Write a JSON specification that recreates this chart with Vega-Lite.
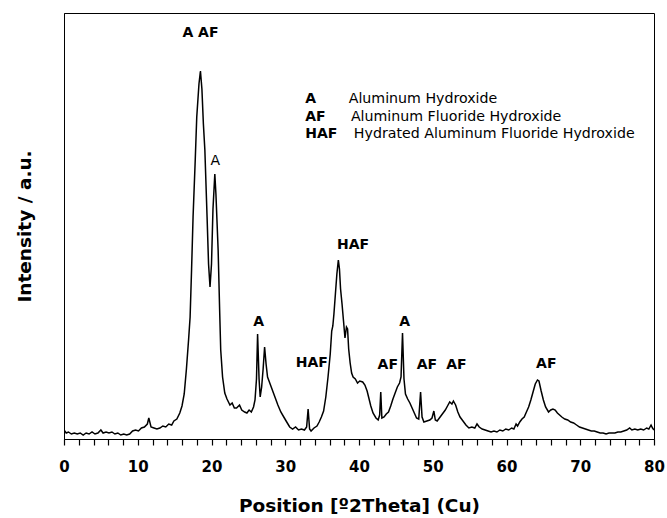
{
  "$schema": "https://vega.github.io/schema/vega-lite/v6.json",
  "width": 590,
  "height": 426,
  "autosize": "none",
  "padding": {"left": 64, "top": 13, "right": 13, "bottom": 79},
  "config": {
    "font": "DejaVu Sans",
    "view": {"stroke": "#000000", "strokeWidth": 1}
  },
  "datasets": {
    "xrd": [
      {"t":0.0,"i":9},{"t":0.3,"i":6},{"t":0.6,"i":7},{"t":1.0,"i":5},{"t":1.4,"i":6},{"t":1.8,"i":5},{"t":2.2,"i":6},{"t":2.6,"i":4},{"t":3.0,"i":6},{"t":3.4,"i":5},{"t":3.8,"i":7},{"t":4.2,"i":5},{"t":4.6,"i":6},{"t":5.0,"i":9},{"t":5.3,"i":6},{"t":5.7,"i":7},{"t":6.1,"i":6},{"t":6.5,"i":7},{"t":6.9,"i":5},{"t":7.3,"i":6},{"t":7.7,"i":4},{"t":8.1,"i":5},{"t":8.5,"i":4},{"t":8.9,"i":5},{"t":9.3,"i":8},{"t":9.7,"i":9},{"t":10.1,"i":8},{"t":10.5,"i":11},{"t":10.9,"i":12},{"t":11.3,"i":15},{"t":11.5,"i":21},{"t":11.8,"i":12},{"t":12.2,"i":11},{"t":12.6,"i":10},{"t":13.0,"i":11},{"t":13.4,"i":13},{"t":13.8,"i":12},{"t":14.2,"i":15},{"t":14.6,"i":14},{"t":14.9,"i":18},{"t":15.3,"i":20},{"t":15.7,"i":26},{"t":16.0,"i":33},{"t":16.3,"i":45},{"t":16.6,"i":70},{"t":16.9,"i":100},{"t":17.1,"i":122},{"t":17.3,"i":170},{"t":17.5,"i":222},{"t":17.8,"i":280},{"t":18.0,"i":322},{"t":18.3,"i":355},{"t":18.5,"i":368},{"t":18.7,"i":350},{"t":18.9,"i":315},{"t":19.1,"i":289},{"t":19.4,"i":222},{"t":19.6,"i":175},{"t":19.8,"i":152},{"t":20.0,"i":175},{"t":20.2,"i":230},{"t":20.45,"i":265},{"t":20.6,"i":245},{"t":20.9,"i":189},{"t":21.1,"i":130},{"t":21.25,"i":89},{"t":21.5,"i":62},{"t":21.8,"i":46},{"t":22.1,"i":40},{"t":22.5,"i":34},{"t":22.8,"i":36},{"t":23.1,"i":31},{"t":23.4,"i":31},{"t":23.8,"i":34},{"t":24.1,"i":29},{"t":24.5,"i":27},{"t":24.8,"i":26},{"t":25.1,"i":29},{"t":25.4,"i":27},{"t":25.7,"i":32},{"t":25.9,"i":39},{"t":26.1,"i":60},{"t":26.25,"i":105},{"t":26.45,"i":60},{"t":26.6,"i":42},{"t":26.8,"i":52},{"t":27.0,"i":70},{"t":27.2,"i":92},{"t":27.4,"i":75},{"t":27.6,"i":62},{"t":27.8,"i":58},{"t":28.1,"i":52},{"t":28.4,"i":46},{"t":28.6,"i":42},{"t":29.0,"i":34},{"t":29.4,"i":27},{"t":29.8,"i":22},{"t":30.2,"i":17},{"t":30.6,"i":12},{"t":31.0,"i":10},{"t":31.4,"i":12},{"t":31.8,"i":9},{"t":32.2,"i":10},{"t":32.6,"i":9},{"t":32.9,"i":12},{"t":33.1,"i":30},{"t":33.3,"i":10},{"t":33.5,"i":8},{"t":33.9,"i":11},{"t":34.3,"i":13},{"t":34.6,"i":17},{"t":34.9,"i":22},{"t":35.2,"i":28},{"t":35.5,"i":42},{"t":35.8,"i":62},{"t":36.1,"i":85},{"t":36.3,"i":108},{"t":36.45,"i":113},{"t":36.6,"i":125},{"t":36.8,"i":145},{"t":37.0,"i":165},{"t":37.2,"i":179},{"t":37.35,"i":170},{"t":37.5,"i":150},{"t":37.7,"i":135},{"t":37.9,"i":118},{"t":38.1,"i":101},{"t":38.3,"i":112},{"t":38.45,"i":110},{"t":38.6,"i":90},{"t":38.8,"i":76},{"t":39.0,"i":66},{"t":39.2,"i":62},{"t":39.5,"i":60},{"t":39.8,"i":56},{"t":40.1,"i":58},{"t":40.5,"i":57},{"t":40.8,"i":54},{"t":41.1,"i":48},{"t":41.3,"i":42},{"t":41.6,"i":33},{"t":41.9,"i":26},{"t":42.3,"i":21},{"t":42.6,"i":19},{"t":42.8,"i":24},{"t":42.95,"i":47},{"t":43.1,"i":21},{"t":43.4,"i":22},{"t":43.7,"i":25},{"t":44.0,"i":27},{"t":44.3,"i":33},{"t":44.6,"i":40},{"t":44.9,"i":46},{"t":45.2,"i":52},{"t":45.5,"i":56},{"t":45.7,"i":62},{"t":45.9,"i":106},{"t":46.1,"i":60},{"t":46.3,"i":45},{"t":46.6,"i":40},{"t":46.9,"i":36},{"t":47.2,"i":31},{"t":47.5,"i":26},{"t":47.8,"i":21},{"t":48.1,"i":20},{"t":48.35,"i":47},{"t":48.55,"i":22},{"t":48.8,"i":17},{"t":49.2,"i":18},{"t":49.6,"i":19},{"t":49.9,"i":21},{"t":50.15,"i":28},{"t":50.35,"i":19},{"t":50.6,"i":18},{"t":50.9,"i":21},{"t":51.3,"i":25},{"t":51.7,"i":29},{"t":52.0,"i":33},{"t":52.3,"i":37},{"t":52.6,"i":35},{"t":52.8,"i":38},{"t":53.1,"i":34},{"t":53.4,"i":27},{"t":53.7,"i":22},{"t":54.1,"i":18},{"t":54.5,"i":14},{"t":54.9,"i":11},{"t":55.3,"i":12},{"t":55.7,"i":11},{"t":56.0,"i":15},{"t":56.3,"i":12},{"t":56.7,"i":10},{"t":57.1,"i":9},{"t":57.5,"i":8},{"t":57.9,"i":7},{"t":58.3,"i":8},{"t":58.7,"i":7},{"t":59.1,"i":9},{"t":59.5,"i":8},{"t":59.9,"i":10},{"t":60.3,"i":9},{"t":60.7,"i":11},{"t":61.0,"i":10},{"t":61.3,"i":15},{"t":61.5,"i":13},{"t":61.8,"i":17},{"t":62.1,"i":20},{"t":62.4,"i":22},{"t":62.7,"i":27},{"t":63.0,"i":32},{"t":63.3,"i":39},{"t":63.6,"i":47},{"t":63.9,"i":55},{"t":64.2,"i":59},{"t":64.4,"i":58},{"t":64.7,"i":48},{"t":65.0,"i":39},{"t":65.3,"i":32},{"t":65.7,"i":27},{"t":66.0,"i":29},{"t":66.3,"i":30},{"t":66.6,"i":29},{"t":66.9,"i":26},{"t":67.2,"i":24},{"t":67.5,"i":22},{"t":67.9,"i":20},{"t":68.3,"i":19},{"t":68.7,"i":17},{"t":69.1,"i":16},{"t":69.5,"i":14},{"t":69.9,"i":12},{"t":70.3,"i":11},{"t":70.7,"i":10},{"t":71.1,"i":9},{"t":71.5,"i":8},{"t":71.9,"i":8},{"t":72.3,"i":7},{"t":72.7,"i":6},{"t":73.1,"i":6},{"t":73.5,"i":5},{"t":73.9,"i":6},{"t":74.3,"i":6},{"t":74.7,"i":6},{"t":75.1,"i":7},{"t":75.5,"i":7},{"t":75.9,"i":8},{"t":76.3,"i":9},{"t":76.7,"i":11},{"t":77.0,"i":9},{"t":77.4,"i":10},{"t":77.8,"i":9},{"t":78.2,"i":10},{"t":78.6,"i":9},{"t":79.0,"i":11},{"t":79.3,"i":10},{"t":79.6,"i":14},{"t":79.8,"i":11},{"t":80.0,"i":9}
    ],
    "peakBold": [
      {"t":18.5,"i":406,"label":"A AF"},
      {"t":26.4,"i":117,"label":"A"},
      {"t":33.6,"i":76,"label":"HAF"},
      {"t":39.2,"i":194,"label":"HAF"},
      {"t":43.9,"i":74,"label":"AF"},
      {"t":46.2,"i":117,"label":"A"},
      {"t":49.2,"i":74,"label":"AF"},
      {"t":53.2,"i":74,"label":"AF"},
      {"t":65.4,"i":75,"label":"AF"}
    ],
    "peakNormal": [
      {"t":20.5,"i":278,"label":"A"}
    ],
    "legendAbbr": [
      {"t":32.7,"i":340,"label":"A"},
      {"t":32.7,"i":322.5,"label":"AF"},
      {"t":32.7,"i":305,"label":"HAF"}
    ],
    "legendText": [
      {"t":38.6,"i":340,"label":"Aluminum Hydroxide"},
      {"t":38.9,"i":322.5,"label":"Aluminum Fluoride Hydroxide"},
      {"t":39.3,"i":305,"label":"Hydrated Aluminum Fluoride Hydroxide"}
    ]
  },
  "encoding": {
    "x": {
      "field": "t", "type": "quantitative",
      "scale": {"domain": [0, 80], "nice": false},
      "axis": {
        "values": [0,2,4,6,8,10,12,14,16,18,20,22,24,26,28,30,32,34,36,38,40,42,44,46,48,50,52,54,56,58,60,62,64,66,68,70,72,74,76,78,80],
        "labelExpr": "datum.value % 10 === 0 ? datum.label : ''",
        "labelOverlap": false,
        "ticks": true,
        "tickSize": 6,
        "tickColor": "#000000",
        "tickWidth": 1.2,
        "domainColor": "#000000",
        "domainWidth": 1.2,
        "grid": false,
        "labelFont": "DejaVu Sans",
        "labelFontSize": 15,
        "labelFontWeight": "bold",
        "labelColor": "#000000",
        "labelPadding": 14,
        "labelFlush": false,
        "title": "Position [º2Theta] (Cu)",
        "titleFont": "DejaVu Sans",
        "titleFontSize": 18.5,
        "titleFontWeight": "bold",
        "titleColor": "#000000",
        "titlePadding": 22
      }
    },
    "y": {
      "field": "i", "type": "quantitative",
      "scale": {"domain": [0, 426], "nice": false},
      "axis": {
        "labels": false,
        "ticks": false,
        "grid": false,
        "domainColor": "#000000",
        "title": "Intensity / a.u.",
        "titleFont": "DejaVu Sans",
        "titleFontSize": 18.5,
        "titleFontWeight": "bold",
        "titleColor": "#000000",
        "titlePadding": 30
      }
    }
  },
  "layer": [
    {
      "data": {"name": "xrd"},
      "mark": {"type": "line", "color": "#000000", "strokeWidth": 1.5, "clip": true}
    },
    {
      "data": {"name": "peakBold"},
      "mark": {"type": "text", "font": "DejaVu Sans", "fontSize": 14, "fontWeight": "bold", "color": "#000000", "baseline": "middle", "align": "center"},
      "encoding": {"text": {"field": "label"}}
    },
    {
      "data": {"name": "peakNormal"},
      "mark": {"type": "text", "font": "DejaVu Sans", "fontSize": 14, "color": "#000000", "baseline": "middle", "align": "center"},
      "encoding": {"text": {"field": "label"}}
    },
    {
      "data": {"name": "legendAbbr"},
      "mark": {"type": "text", "font": "DejaVu Sans", "fontSize": 14, "fontWeight": "bold", "color": "#000000", "baseline": "middle", "align": "left"},
      "encoding": {"text": {"field": "label"}}
    },
    {
      "data": {"name": "legendText"},
      "mark": {"type": "text", "font": "DejaVu Sans", "fontSize": 14.2, "color": "#000000", "baseline": "middle", "align": "left"},
      "encoding": {"text": {"field": "label"}}
    }
  ]
}
